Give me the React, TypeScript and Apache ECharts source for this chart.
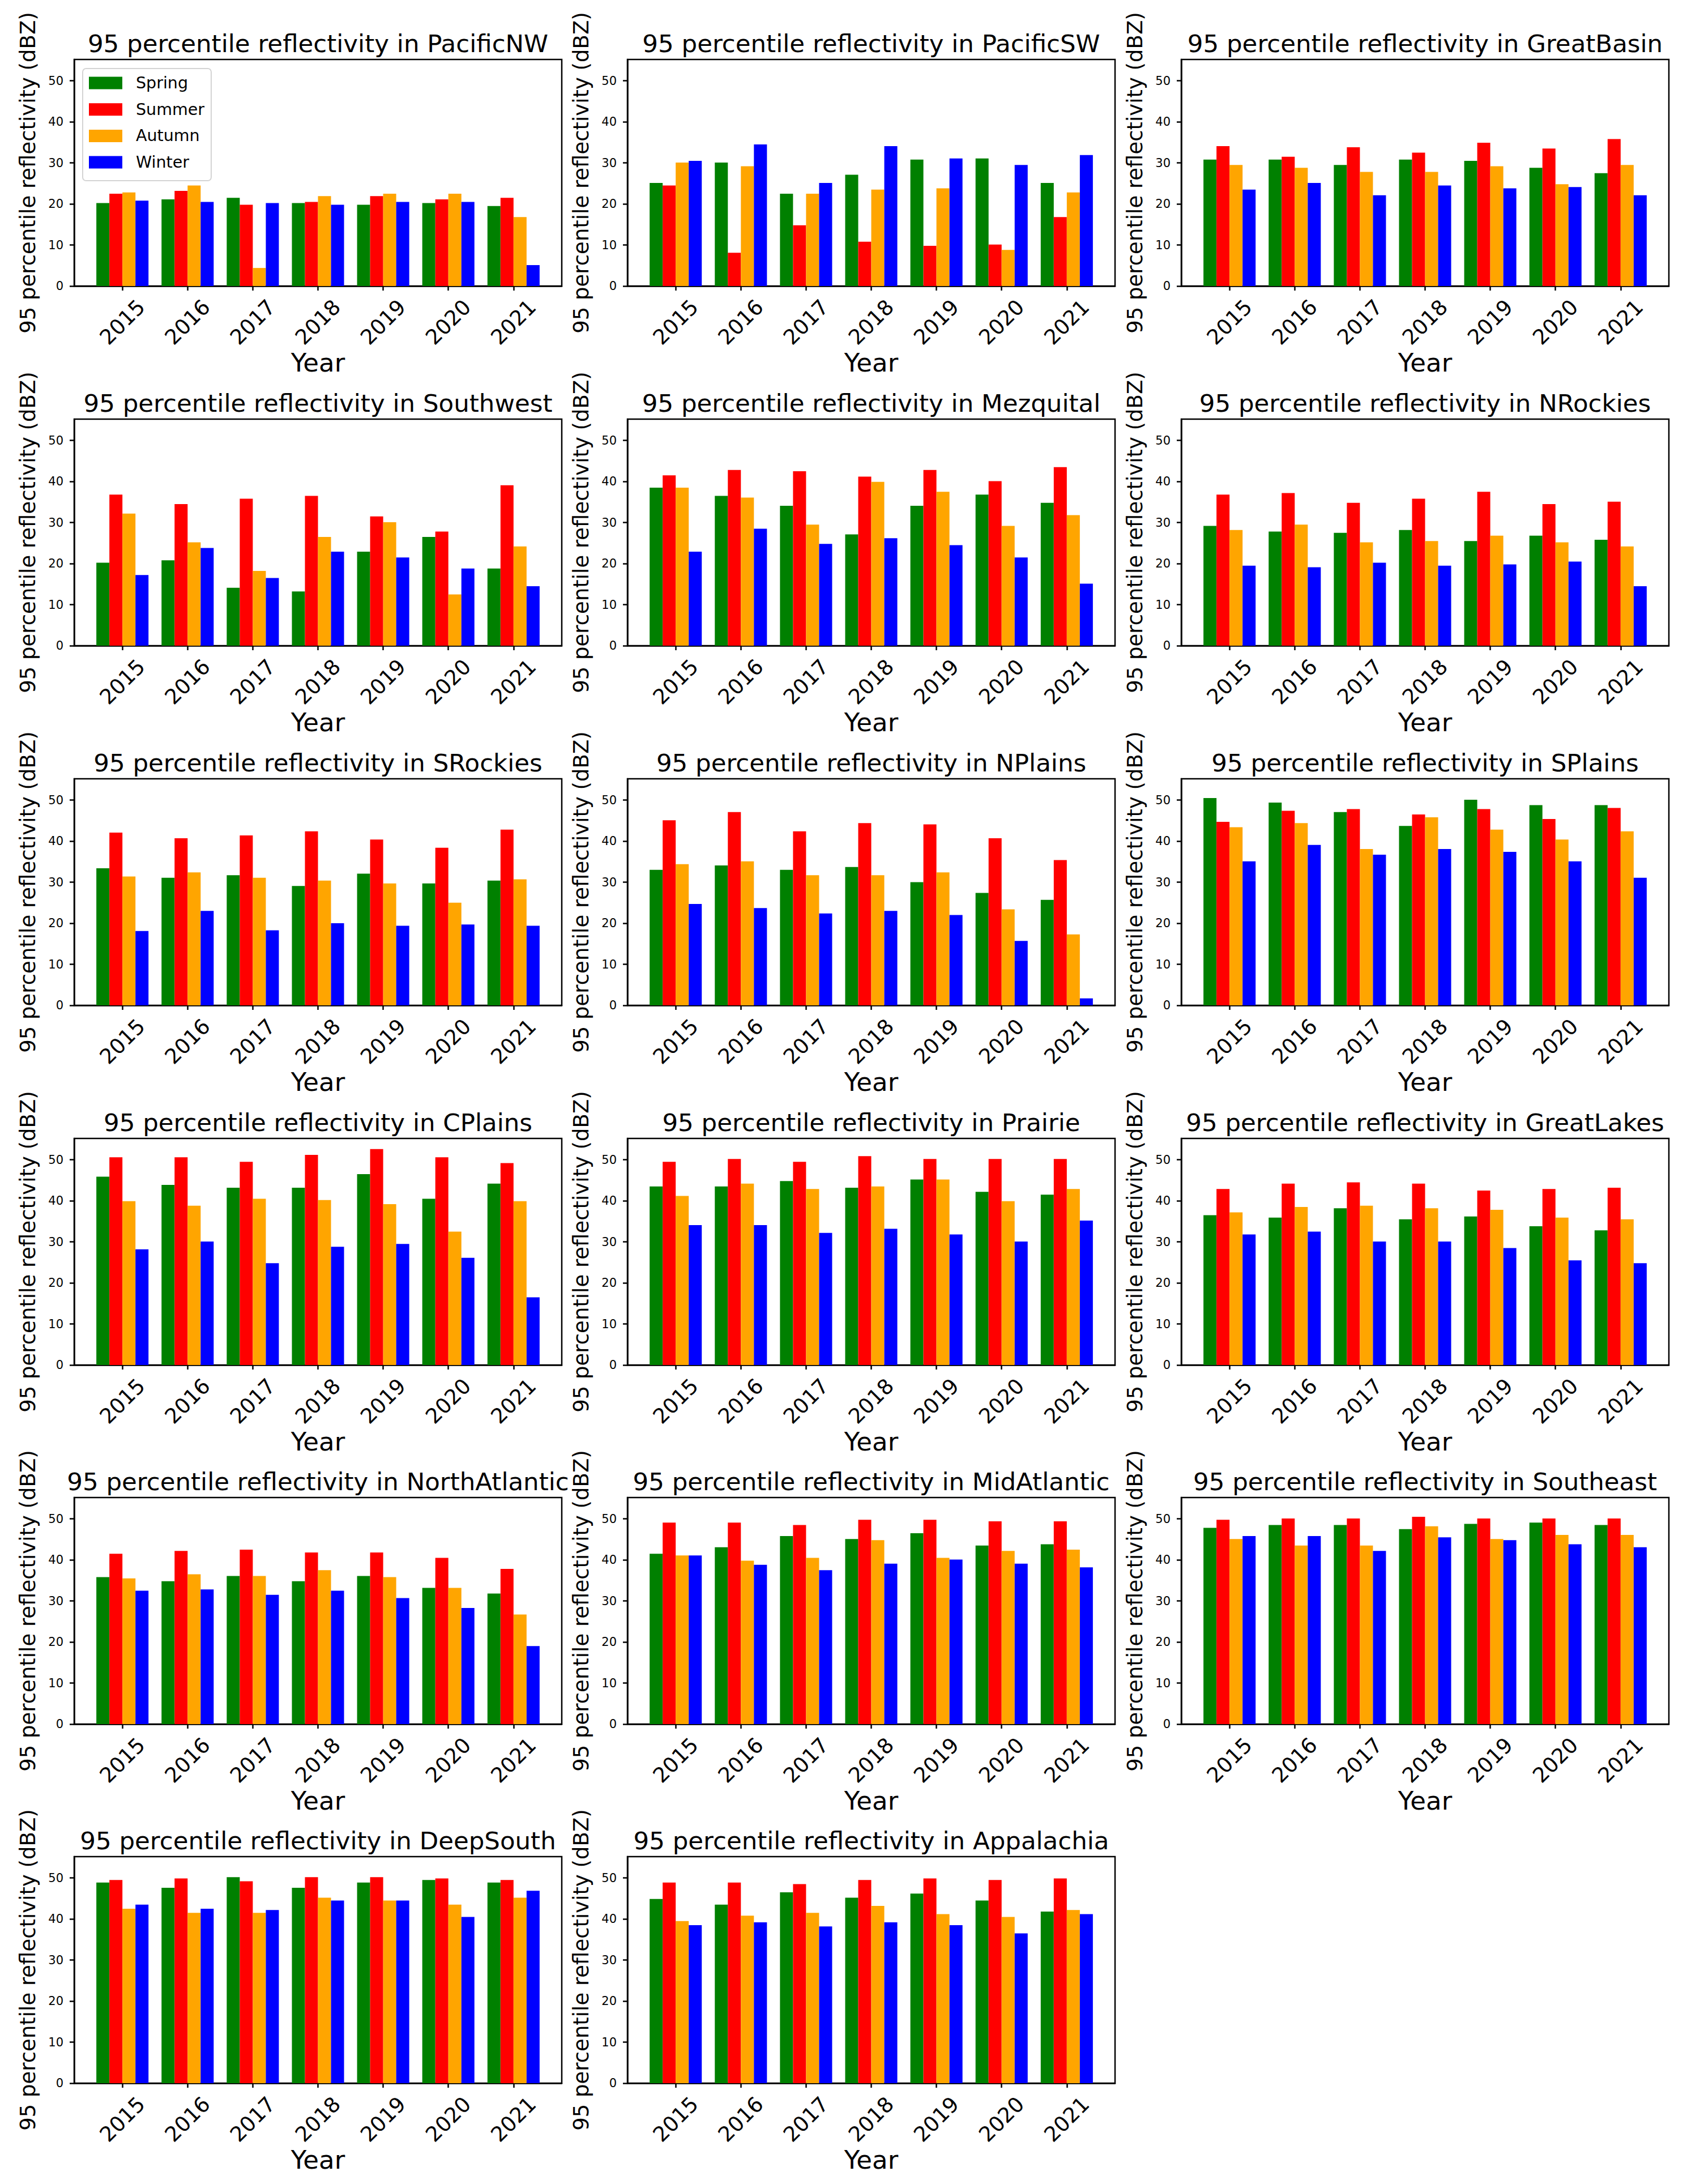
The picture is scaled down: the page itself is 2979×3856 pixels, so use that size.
import React, { useEffect, useRef } from 'react';
import * as echarts from 'echarts';

// ---------- data ----------
const years = ['2015', '2016', '2017', '2018', '2019', '2020', '2021'];
const seasons = ['Spring', 'Summer', 'Autumn', 'Winter'];
const seasonColors = ['#008000', '#ff0000', '#ffa500', '#0000ff'];
const yTicks = [0, 10, 20, 30, 40, 50];
const xTicks = [0, 1, 2, 3, 4, 5, 6];

// each region: [Spring, Summer, Autumn, Winter] by year 2015..2021
const PacificNW = [
  [20.2, 21.1, 21.5, 20.2, 19.8, 20.2, 19.5],
  [22.5, 23.2, 19.8, 20.5, 21.9, 21.1, 21.5],
  [22.8, 24.5, 4.4, 21.9, 22.5, 22.5, 16.8],
  [20.8, 20.5, 20.2, 19.8, 20.5, 20.5, 5.1],
];
const PacificSW = [
  [25.1, 30.1, 22.5, 27.1, 30.8, 31.1, 25.1],
  [24.5, 8.1, 14.8, 10.8, 9.8, 10.1, 16.8],
  [30.1, 29.2, 22.5, 23.5, 23.8, 8.8, 22.8],
  [30.5, 34.5, 25.1, 34.1, 31.1, 29.5, 31.9],
];
const GreatBasin = [
  [30.8, 30.8, 29.5, 30.8, 30.5, 28.8, 27.5],
  [34.1, 31.5, 33.8, 32.5, 34.9, 33.5, 35.8],
  [29.5, 28.8, 27.8, 27.8, 29.2, 24.8, 29.5],
  [23.5, 25.1, 22.1, 24.5, 23.8, 24.1, 22.1],
];
const Southwest = [
  [20.2, 20.8, 14.1, 13.2, 22.9, 26.5, 18.8],
  [36.8, 34.5, 35.8, 36.5, 31.5, 27.8, 39.1],
  [32.2, 25.2, 18.2, 26.5, 30.1, 12.5, 24.2],
  [17.2, 23.8, 16.5, 22.9, 21.5, 18.8, 14.5],
];
const Mezquital = [
  [38.5, 36.5, 34.1, 27.1, 34.1, 36.8, 34.8],
  [41.5, 42.8, 42.5, 41.2, 42.8, 40.1, 43.5],
  [38.5, 36.1, 29.5, 39.9, 37.5, 29.2, 31.8],
  [22.9, 28.5, 24.8, 26.2, 24.5, 21.5, 15.1],
];
const NRockies = [
  [29.2, 27.8, 27.5, 28.2, 25.5, 26.8, 25.8],
  [36.8, 37.2, 34.8, 35.8, 37.5, 34.5, 35.1],
  [28.2, 29.5, 25.2, 25.5, 26.8, 25.2, 24.2],
  [19.5, 19.1, 20.2, 19.5, 19.8, 20.5, 14.5],
];
const SRockies = [
  [33.4, 31.1, 31.7, 29.1, 32.1, 29.7, 30.4],
  [42.1, 40.7, 41.4, 42.4, 40.4, 38.4, 42.8],
  [31.4, 32.4, 31.1, 30.4, 29.7, 25.0, 30.7],
  [18.1, 23.0, 18.3, 20.0, 19.4, 19.7, 19.4],
];
const NPlains = [
  [33.0, 34.1, 33.0, 33.7, 30.0, 27.4, 25.7],
  [45.1, 47.1, 42.4, 44.4, 44.1, 40.7, 35.4],
  [34.4, 35.1, 31.7, 31.7, 32.4, 23.4, 17.3],
  [24.7, 23.7, 22.4, 23.0, 22.0, 15.7, 1.7],
];
const SPlains = [
  [50.5, 49.4, 47.1, 43.7, 50.1, 48.8, 48.8],
  [44.7, 47.4, 47.8, 46.5, 47.8, 45.4, 48.1],
  [43.4, 44.4, 38.1, 45.8, 42.8, 40.4, 42.4],
  [35.1, 39.1, 36.7, 38.1, 37.4, 35.1, 31.1],
];
const CPlains = [
  [45.9, 43.9, 43.2, 43.2, 46.5, 40.5, 44.2],
  [50.6, 50.6, 49.5, 51.2, 52.6, 50.6, 49.2],
  [39.9, 38.8, 40.5, 40.2, 39.2, 32.5, 39.9],
  [28.2, 30.1, 24.8, 28.8, 29.5, 26.1, 16.5],
];
const Prairie = [
  [43.5, 43.5, 44.8, 43.2, 45.2, 42.2, 41.5],
  [49.5, 50.2, 49.5, 50.9, 50.2, 50.2, 50.2],
  [41.2, 44.2, 42.9, 43.5, 45.2, 39.9, 42.9],
  [34.1, 34.1, 32.2, 33.2, 31.8, 30.1, 35.2],
];
const GreatLakes = [
  [36.5, 35.9, 38.2, 35.5, 36.2, 33.8, 32.8],
  [42.9, 44.2, 44.5, 44.2, 42.5, 42.9, 43.2],
  [37.2, 38.5, 38.8, 38.2, 37.8, 35.9, 35.5],
  [31.8, 32.5, 30.1, 30.1, 28.5, 25.5, 24.8],
];
const NorthAtlantic = [
  [35.8, 34.8, 36.1, 34.8, 36.1, 33.2, 31.8],
  [41.5, 42.2, 42.5, 41.8, 41.8, 40.5, 37.8],
  [35.5, 36.5, 36.1, 37.5, 35.8, 33.2, 26.7],
  [32.5, 32.8, 31.5, 32.5, 30.7, 28.3, 19.0],
];
const MidAtlantic = [
  [41.5, 43.1, 45.8, 45.1, 46.5, 43.5, 43.8],
  [49.1, 49.1, 48.5, 49.8, 49.8, 49.4, 49.4],
  [41.1, 39.8, 40.5, 44.8, 40.5, 42.2, 42.5],
  [41.1, 38.8, 37.5, 39.1, 40.1, 39.1, 38.2],
];
const Southeast = [
  [47.8, 48.5, 48.5, 47.5, 48.8, 49.1, 48.5],
  [49.8, 50.1, 50.1, 50.5, 50.1, 50.1, 50.1],
  [45.1, 43.5, 43.5, 48.2, 45.1, 46.1, 46.1],
  [45.8, 45.8, 42.2, 45.5, 44.8, 43.8, 43.1],
];
const DeepSouth = [
  [48.9, 47.6, 50.2, 47.6, 48.9, 49.5, 48.9],
  [49.5, 49.9, 49.2, 50.2, 50.2, 49.9, 49.5],
  [42.5, 41.5, 41.5, 45.2, 44.5, 43.5, 45.2],
  [43.5, 42.5, 42.2, 44.5, 44.5, 40.5, 46.9],
];
const Appalachia = [
  [44.9, 43.5, 46.5, 45.2, 46.2, 44.5, 41.8],
  [48.9, 48.9, 48.5, 49.5, 49.9, 49.5, 49.9],
  [39.5, 40.8, 41.5, 43.2, 41.2, 40.5, 42.2],
  [38.5, 39.2, 38.2, 39.2, 38.5, 36.5, 41.2],
];

const regionNames = [
  'PacificNW', 'PacificSW', 'GreatBasin', 'Southwest', 'Mezquital', 'NRockies',
  'SRockies', 'NPlains', 'SPlains', 'CPlains', 'Prairie', 'GreatLakes',
  'NorthAtlantic', 'MidAtlantic', 'Southeast', 'DeepSouth', 'Appalachia',
];
const regionData = [
  PacificNW, PacificSW, GreatBasin, Southwest, Mezquital, NRockies,
  SRockies, NPlains, SPlains, CPlains, Prairie, GreatLakes,
  NorthAtlantic, MidAtlantic, Southeast, DeepSouth, Appalachia,
];

// ---------- layout ----------
const FONT = 'DejaVu Sans';
const rowTops = [105, 740, 1375, 2010, 2644, 3278];
const colLefts = [131, 1108, 2086];
const gridW = 861;
const gridH = 400;
const barW = 0.2;
const yMax = 55.2;

function buildOption() {
  const grids: any[] = [];
  const xAxes: any[] = [];
  const yAxes: any[] = [];
  const titles: any[] = [];
  const series: any[] = [];

  regionNames.forEach((name, k) => {
    const row = Math.floor(k / 3);
    const col = k % 3;
    grids.push({
      left: colLefts[col],
      top: rowTops[row],
      width: gridW,
      height: gridH,
      show: true,
      borderColor: '#000',
      borderWidth: 2.5,
      backgroundColor: 'transparent',
      containLabel: false,
      outerBoundsMode: 'none',
    });
    titles.push({
      text: `95 percentile reflectivity in ${name}`,
      left: colLefts[col] + gridW / 2,
      top: rowTops[row] - 50,
      textAlign: 'center',
      padding: 0,
      textStyle: { fontSize: 43.5, fontWeight: 'normal', color: '#000', fontFamily: FONT },
    });
    xAxes.push({
      type: 'value',
      gridIndex: k,
      min: -0.74,
      max: 6.74,
      splitLine: { show: false },
      axisLine: { show: true, onZero: false, lineStyle: { color: '#000', width: 2.5 } },
      axisTick: {
        show: true,
        customValues: xTicks,
        length: 8,
        lineStyle: { color: '#000', width: 2.5 },
      },
      axisLabel: {
        customValues: xTicks,
        formatter: (v: number) => years[Math.round(v)] ?? '',
        rotate: 45,
        align: 'center',
        verticalAlign: 'middle',
        margin: 64,
        fontSize: 37,
        color: '#000',
        fontFamily: FONT,
      },
      name: 'Year',
      nameLocation: 'middle',
      nameGap: 113,
      nameMoveOverlap: false,
      nameTextStyle: { fontSize: 45, color: '#000', fontFamily: FONT },
    });
    yAxes.push({
      type: 'value',
      gridIndex: k,
      min: 0,
      max: yMax,
      splitLine: { show: false },
      axisLine: { show: true, onZero: false, lineStyle: { color: '#000', width: 2.5 } },
      axisTick: {
        show: true,
        customValues: yTicks,
        length: 8,
        lineStyle: { color: '#000', width: 2.5 },
      },
      axisLabel: {
        customValues: yTicks,
        margin: 19,
        fontSize: 21,
        color: '#000',
        fontFamily: FONT,
      },
      name: '95 percentile reflectivity (dBZ)',
      nameLocation: 'middle',
      nameRotate: 90,
      nameGap: 63,
      nameMoveOverlap: false,
      nameTextStyle: { fontSize: 37, color: '#000', fontFamily: FONT },
    });
    const data = regionData[k];
    seasons.forEach((season, s) => {
      series.push({
        type: 'custom',
        name: season,
        xAxisIndex: k,
        yAxisIndex: k,
        itemStyle: { color: seasonColors[s] },
        encode: { x: 0, y: 1 },
        data: data[s].map((v, i) => [i + (s - 1.5) * barW, v]),
        renderItem: (params: any, api: any) => {
          const x = api.value(0);
          const y = api.value(1);
          const p0 = api.coord([x - barW / 2, y]);
          const p1 = api.coord([x + barW / 2, 0]);
          return {
            type: 'rect',
            shape: { x: p0[0], y: p0[1], width: p1[0] - p0[0], height: p1[1] - p0[1] },
            style: { fill: api.visual('color') },
          };
        },
      });
    });
  });

  return {
    animation: false,
    backgroundColor: '#fff',
    textStyle: { fontFamily: FONT },
    title: titles,
    grid: grids,
    xAxis: xAxes,
    yAxis: yAxes,
    legend: {
      show: true,
      data: seasons,
      orient: 'vertical',
      left: 146,
      top: 121,
      padding: [11, 12, 18, 11],
      itemWidth: 59,
      itemHeight: 22,
      itemGap: 17.7,
      icon: 'rect',
      selectedMode: false,
      borderColor: '#d4d4d4',
      borderWidth: 2,
      borderRadius: 6,
      backgroundColor: 'rgba(255,255,255,0.8)',
      textStyle: {
        fontSize: 28.5,
        color: '#000',
        fontFamily: FONT,
        lineHeight: 28,
        padding: [0, 0, 0, 19],
      },
    },
    series,
  };
}

export default function App() {
  const ref = useRef<HTMLDivElement>(null);
  useEffect(() => {
    document.body.style.margin = '0';
    if (!ref.current) return;
    const chart = echarts.init(ref.current, undefined, { renderer: 'svg' });
    chart.setOption(buildOption() as any);
    return () => chart.dispose();
  }, []);
  return <div ref={ref} style={{ width: 2979, height: 3856, background: '#fff' }} />;
}
